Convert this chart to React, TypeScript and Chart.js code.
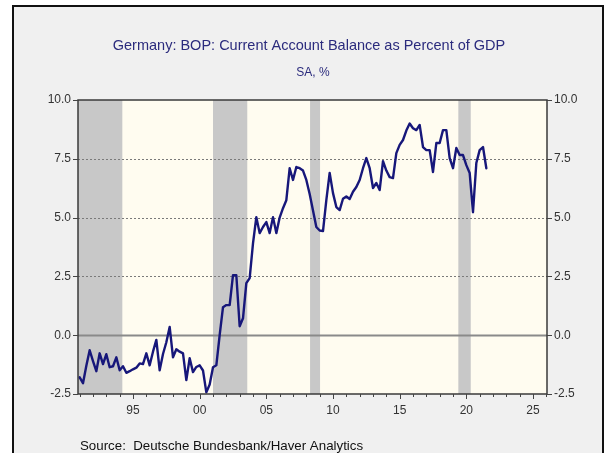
import React, { useEffect, useRef } from "react";
import { Chart, registerables } from "chart.js";

Chart.register(...registerables);

const TITLE = "Germany: BOP: Current Account Balance as Percent of GDP";
const SUBTITLE = "SA, %";
const SOURCE = "Source:  Deutsche Bundesbank/Haver Analytics";

// quarterly series starting 1991 Q1
const START_YEAR = 1991;
const balancePct = [
  -1.79, -2.04, -1.3, -0.64, -1.1, -1.53, -0.77, -1.23, -0.81, -1.36,
  -1.32, -0.94, -1.49, -1.32, -1.6, -1.53, -1.45, -1.38, -1.2, -1.23,
  -0.77, -1.28, -0.7, -0.2, -1.49, -0.8, -0.3, 0.35, -0.94, -0.6,
  -0.7, -0.77, -1.91, -0.98, -1.57, -1.35, -1.28, -1.5, -2.43, -2.1,
  -1.36, -1.28, 0.0, 1.19, 1.28, 1.28, 2.55, 2.55, 0.38, 0.72,
  2.21, 2.43, 3.9, 5.02, 4.34, 4.6, 4.81, 4.34, 5.02, 4.34,
  5.0, 5.4, 5.74, 7.1, 6.6, 7.15, 7.1, 7.0, 6.6, 6.0,
  5.3, 4.6, 4.45, 4.43, 5.74, 6.9, 6.04, 5.45, 5.32, 5.8,
  5.9, 5.79, 6.1, 6.3, 6.6, 7.1, 7.53, 7.1, 6.26, 6.47,
  6.17, 7.4, 7.0, 6.72, 6.68, 7.74, 8.09, 8.3, 8.7, 9.0,
  8.8, 8.72, 8.94, 8.0, 7.87, 7.87, 6.94, 8.17, 8.17, 8.72,
  8.72, 7.53, 7.1, 7.96, 7.66, 7.66, 7.23, 6.9, 5.23, 7.32,
  7.87, 8.0, 7.1,
];

// recession shading (start, end) in fractional years
const recessionStarts = [1990.5, 2001.0, 2008.28, 2019.4];
const recessionEnds = [1994.2, 2003.57, 2009.03, 2020.33];

const yTickValues = [-2.5, 0, 2.5, 5, 7.5, 10];
const xTickYears = [1995, 2000, 2005, 2010, 2015, 2020, 2025];
const X_MIN = 1990.875;
const X_MAX = 2026.05;
const Y_MIN = -2.5;
const Y_MAX = 10;

const FONT = "'Liberation Sans', Arial, Helvetica, sans-serif";

const W = 606;
const H = 453;
const PLOT_LEFT = 78;
const PLOT_RIGHT = 547;
const PLOT_TOP = 100;
const PLOT_BOTTOM = 394;

const decorPlugin = {
  id: "decor",
  beforeDraw(chart: any) {
    const { ctx, chartArea } = chart;
    const xs = chart.scales.x;
    const ys = chart.scales.y;
    ctx.save();
    ctx.fillStyle = "#fffcf0";
    ctx.fillRect(chartArea.left, chartArea.top, chartArea.right - chartArea.left, chartArea.bottom - chartArea.top);
    ctx.beginPath();
    ctx.rect(chartArea.left, chartArea.top, chartArea.right - chartArea.left, chartArea.bottom - chartArea.top);
    ctx.clip();
    ctx.fillStyle = "#c8c8c8";
    for (let i = 0; i < recessionStarts.length; i++) {
      const x0 = xs.getPixelForValue(recessionStarts[i]);
      const x1 = xs.getPixelForValue(recessionEnds[i]);
      ctx.fillRect(x0, chartArea.top, x1 - x0, chartArea.bottom - chartArea.top);
    }
    // grid lines
    for (const v of yTickValues) {
      if (v === Y_MIN || v === Y_MAX) continue;
      const y = Math.round(ys.getPixelForValue(v)) + 0.5;
      ctx.beginPath();
      if (v === 0) {
        ctx.setLineDash([]);
        ctx.strokeStyle = "#8a8a8a";
        ctx.lineWidth = 2;
      } else {
        ctx.setLineDash([2, 2]);
        ctx.strokeStyle = "#7a7a7a";
        ctx.lineWidth = 1;
      }
      ctx.moveTo(chartArea.left, y);
      ctx.lineTo(chartArea.right, y);
      ctx.stroke();
    }
    ctx.restore();
  },
  afterDatasetsDraw(chart: any) {
    const { ctx, chartArea } = chart;
    const xs = chart.scales.x;
    const ys = chart.scales.y;
    ctx.save();
    ctx.strokeStyle = "#3a3a3a";
    ctx.lineWidth = 1.5;
    ctx.setLineDash([]);
    ctx.strokeRect(chartArea.left, chartArea.top, chartArea.right - chartArea.left, chartArea.bottom - chartArea.top);
    ctx.lineWidth = 1;
    ctx.strokeStyle = "#444";
    ctx.beginPath();
    for (const v of yTickValues) {
      const y = Math.round(ys.getPixelForValue(v)) + 0.5;
      ctx.moveTo(chartArea.left - 5, y);
      ctx.lineTo(chartArea.left, y);
      ctx.moveTo(chartArea.right, y);
      ctx.lineTo(chartArea.right + 5, y);
    }
    for (let yr = Math.ceil(X_MIN); yr <= Math.floor(X_MAX); yr++) {
      const x = Math.round(xs.getPixelForValue(yr)) + 0.5;
      const len = yr % 5 === 0 ? 5 : 3;
      ctx.moveTo(x, chartArea.bottom);
      ctx.lineTo(x, chartArea.bottom + len);
    }
    ctx.stroke();
    ctx.restore();
  },
  afterDraw(chart: any) {
    const { ctx } = chart;
    ctx.save();
    ctx.fillStyle = "#2b2b7d";
    ctx.textAlign = "center";
    ctx.textBaseline = "alphabetic";
    ctx.font = `14.5px ${FONT}`;
    ctx.fillText(TITLE, 309, 50);
    ctx.font = `12px ${FONT}`;
    ctx.fillText(SUBTITLE, 313, 76);
    ctx.fillStyle = "#111";
    ctx.textAlign = "left";
    ctx.font = `13.3px ${FONT}`;
    ctx.fillText(SOURCE, 80, 450);
    ctx.restore();
  },
};

export default function App() {
  const canvasRef = useRef<HTMLCanvasElement | null>(null);

  useEffect(() => {
    if (!canvasRef.current) return;
    const points = balancePct.map((v, i) => ({ x: START_YEAR + i * 0.25, y: v }));
    const tickFont = { family: FONT, size: 12 };
    const yAxis = (position: string, width: number) => ({
      type: "linear" as const,
      position,
      min: Y_MIN,
      max: Y_MAX,
      afterBuildTicks: (s: any) => {
        s.ticks = yTickValues.map((v) => ({ value: v }));
      },
      afterFit: (s: any) => {
        s.width = width;
      },
      grid: { display: false, drawTicks: false },
      border: { display: false },
      ticks: {
        padding: 7,
        color: "#333",
        font: tickFont,
        callback: (v: any) => Number(v).toFixed(1),
      },
    });
    const chart = new Chart(canvasRef.current, {
      type: "line",
      data: {
        datasets: [
          {
            data: points,
            borderColor: "#17177a",
            borderWidth: 2.4,
            borderJoinStyle: "round",
            borderCapStyle: "round",
            pointRadius: 0,
            tension: 0,
            yAxisID: "y",
            xAxisID: "x",
          },
        ],
      },
      options: {
        animation: false,
        responsive: false,
        devicePixelRatio: 1,
        layout: { padding: { top: PLOT_TOP, bottom: 0, left: 0, right: 0 } },
        plugins: {
          legend: { display: false },
          tooltip: { enabled: false },
        },
        scales: {
          x: {
            type: "linear",
            min: X_MIN,
            max: X_MAX,
            afterBuildTicks: (s: any) => {
              s.ticks = xTickYears.map((v) => ({ value: v }));
            },
            afterFit: (s: any) => {
              s.height = H - PLOT_BOTTOM;
            },
            grid: { display: false, drawTicks: false },
            border: { display: false },
            ticks: {
              autoSkip: false,
              maxRotation: 0,
              padding: 9,
              color: "#333",
              font: tickFont,
              callback: (v: any) => String(Math.round(Number(v)) % 100).padStart(2, "0"),
            },
          },
          y: yAxis("left", PLOT_LEFT),
          y2: yAxis("right", W - PLOT_RIGHT),
        },
      } as any,
      plugins: [decorPlugin],
    });
    return () => chart.destroy();
  }, []);

  return (
    <div style={{ position: "fixed", left: 0, top: 0, width: W, height: H, overflow: "hidden", background: "#fff" }}>
      <div
        style={{
          position: "absolute",
          left: 12,
          top: 5,
          width: 592,
          height: 470,
          border: "2px solid #111",
          boxSizing: "border-box",
          background: "#f0f0f0",
        }}
      />
      <canvas ref={canvasRef} width={W} height={H} style={{ position: "absolute", left: 0, top: 0, width: W, height: H }} />
    </div>
  );
}
